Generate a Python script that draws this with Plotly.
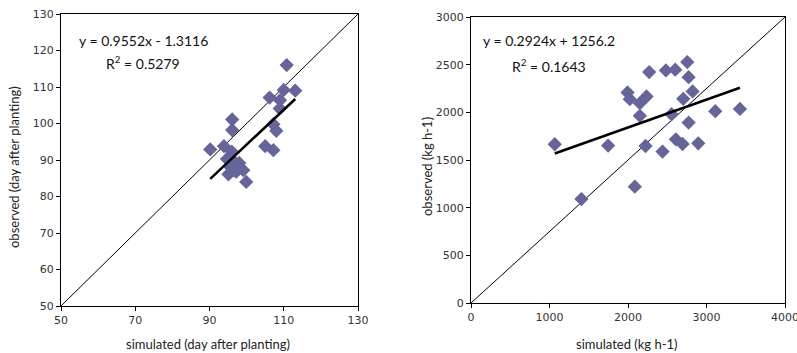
import plotly.graph_objects as go

# Left panel: phenology (day after planting)
sim_days = [110.8, 113.1, 110.0, 106.2, 109.0, 108.9, 107.2, 108.0, 96.1, 96.1,
            90.2, 93.9, 105.0, 107.2, 94.7, 96.0, 96.2, 95.6, 95.1, 96.5,
            97.5, 98.0, 97.2, 99.1, 99.9]
obs_days = [116.0, 109.0, 109.2, 107.1, 106.4, 104.1, 99.8, 98.0, 101.1, 98.2,
            92.9, 93.8, 93.8, 92.7, 90.3, 92.3, 90.0, 88.1, 86.1, 87.2,
            88.3, 89.2, 86.8, 87.2, 84.0]
slope_days, icpt_days = 0.9552, -1.3116

# Right panel: yield (kg h-1)
sim_yield = [1067, 1407, 1747, 2087, 1994, 2023, 2151, 2236, 2151, 2223,
             2270, 2440, 2483, 2602, 2755, 2772, 2823, 2704, 2555, 2772,
             2610, 2695, 2895, 3112, 3426]
obs_yield = [1665, 1090, 1651, 1220, 2208, 2138, 2096, 2166, 1963, 1647,
             2422, 1588, 2440, 2447, 2527, 2369, 2219, 2142, 1980, 1893,
             1717, 1668, 1675, 2012, 2036]
slope_yield, icpt_yield = 0.2924, 1256.2

left_ticks = [50, 70, 90, 110, 130]
left_yticks = [50, 60, 70, 80, 90, 100, 110, 120, 130]
right_xticks = [0, 1000, 2000, 3000, 4000]
right_yticks = [0, 500, 1000, 1500, 2000, 2500, 3000]

MK = "#65659c"
TICKFONT = dict(family="DejaVu Sans", size=11, color="#333333")
EQFONT = dict(family="Lato", size=14, color="#111111")
TITLEFONT = dict(family="Lato", size=13, color="#222222")

fig = go.Figure()

# Left
fig.add_trace(go.Scatter(x=[50, 130], y=[50, 130], mode="lines",
                         line=dict(color="black", width=1), xaxis="x", yaxis="y",
                         showlegend=False, hoverinfo="skip"))
fig.add_trace(go.Scatter(x=sim_days, y=obs_days, mode="markers",
                         marker=dict(symbol="diamond", size=11, color=MK),
                         xaxis="x", yaxis="y", showlegend=False))
lx = [min(sim_days), max(sim_days)]
fig.add_trace(go.Scatter(x=lx, y=[slope_days * v + icpt_days for v in lx], mode="lines",
                         line=dict(color="black", width=2.5), xaxis="x", yaxis="y",
                         showlegend=False))

# Right
fig.add_trace(go.Scatter(x=[0, 4000], y=[0, 3000], mode="lines",
                         line=dict(color="black", width=1), xaxis="x2", yaxis="y2",
                         showlegend=False, hoverinfo="skip"))
fig.add_trace(go.Scatter(x=sim_yield, y=obs_yield, mode="markers",
                         marker=dict(symbol="diamond", size=11, color=MK),
                         xaxis="x2", yaxis="y2", showlegend=False))
rx = [min(sim_yield), max(sim_yield)]
fig.add_trace(go.Scatter(x=rx, y=[slope_yield * v + icpt_yield for v in rx], mode="lines",
                         line=dict(color="black", width=2.5), xaxis="x2", yaxis="y2",
                         showlegend=False))

ax_common = dict(showgrid=False, zeroline=False, showline=True, linecolor="black",
                 linewidth=1, mirror=True, ticks="outside", ticklen=4,
                 tickcolor="black", tickfont=TICKFONT, automargin=False,
                 ticklabeloverflow="allow")

fig.update_layout(
    width=797, height=353,
    margin=dict(l=0, r=0, t=0, b=0),
    paper_bgcolor="white", plot_bgcolor="white",
    xaxis=dict(domain=[61/797, 358/797], range=[50, 130], tickvals=left_ticks,
               anchor="y", **ax_common),
    yaxis=dict(domain=[1-306/353, 1-14/353], range=[50, 130], tickvals=left_yticks,
               anchor="x", **ax_common),
    xaxis2=dict(domain=[471/797, 785/797], range=[0, 4000], tickvals=right_xticks,
                anchor="y2", **ax_common),
    yaxis2=dict(domain=[1-303/353, 1-17/353], range=[0, 3000], tickvals=right_yticks,
                anchor="x2", **ax_common),
)

def ann(text, x, y, font, angle=0):
    fig.add_annotation(text=text, x=x/797, y=1-y/353, xref="paper", yref="paper",
                       showarrow=False, textangle=angle, font=font,
                       xanchor="center", yanchor="middle")

ann("y = 0.9552x - 1.3116", 143, 40, EQFONT)
ann("R<sup>2</sup> = 0.5279", 143, 62, EQFONT)
ann("y = 0.2924x + 1256.2", 549, 40, EQFONT)
ann("R<sup>2</sup> = 0.1643", 549, 65, EQFONT)
ann("simulated (day after planting)", 208, 344, TITLEFONT)
ann("simulated (kg h-1)", 627, 344, TITLEFONT)
ann("observed (day after planting)", 14, 167, TITLEFONT, angle=-90)
ann("observed (kg h-1)", 427, 167, TITLEFONT, angle=-90)

fig.write_html("out.html", config={"displayModeBar": False},
               post_script="document.body.style.margin='0px';document.body.style.overflow='hidden';")
